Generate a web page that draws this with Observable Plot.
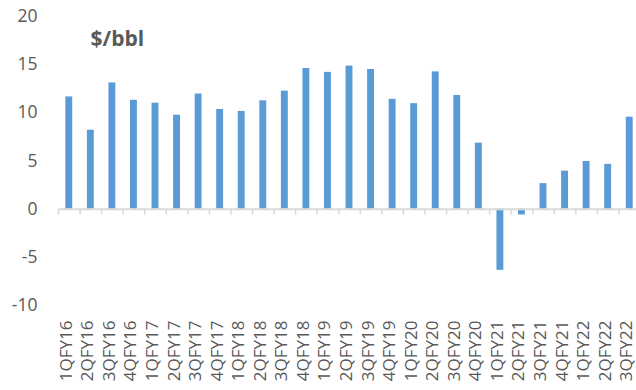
<!DOCTYPE html>
<html><head><meta charset="utf-8">
<script src="https://cdn.jsdelivr.net/npm/d3@7"></script>
<script src="https://cdn.jsdelivr.net/npm/@observablehq/plot@0.6"></script>
<style>html,body{margin:0;padding:0;background:#fff} #chart svg{display:block}</style>
</head><body><div id="chart"></div>
<script>
const quarters = ["1QFY16","2QFY16","3QFY16","4QFY16","1QFY17","2QFY17","3QFY17","4QFY17","1QFY18","2QFY18","3QFY18","4QFY18","1QFY19","2QFY19","3QFY19","4QFY19","1QFY20","2QFY20","3QFY20","4QFY20","1QFY21","2QFY21","3QFY21","4QFY21","1QFY22","2QFY22","3QFY22"];
const values = [11.65, 8.2, 13.1, 11.3, 11.0, 9.75, 11.95, 10.35, 10.15, 11.25, 12.25, 14.6, 14.2, 14.85, 14.5, 11.4, 10.95, 14.25, 11.8, 6.85, -6.35, -0.6, 2.65, 3.95, 4.95, 4.65, 9.55];
const yTicks = [-10, -5, 0, 5, 10, 15, 20];
const title = "$/bbl";

const data = quarters.map((q, i) => ({q, v: values[i]}));
const X0 = 58, X1 = 640;
const bw = (X1 - X0) / quarters.length;
const chart = Plot.plot({
  width: 636, height: 390,
  marginTop: 16, marginBottom: 85, marginLeft: 58, marginRight: 0,
  style: {fontFamily: "'Open Sans', sans-serif", fontSize: "17px", color: "#595959", background: "#fff"},
  x: {type: "band", domain: quarters, range: [X0, X1], paddingInner: 0.68, paddingOuter: 0.34, round: false},
  y: {domain: [-10, 20], ticks: yTicks},
  marks: [
    Plot.axisY({ticks: yTicks, tickSize: 0, tickPadding: 21, tickFormat: d => String(d), label: null, fill: "#595959", fontSize: 17.5}),
    Plot.axisX({tickSize: 0, tickRotate: -90, tickPadding: 15, dx: -3, label: null, fill: "#595959"}),
    Plot.barY(data, {x: "q", y: "v", fill: "#5B9BD5"}),
    Plot.ruleY([0], {stroke: "#d9d9d9", strokeWidth: 2}),
    Plot.ruleX(quarters, {x: d => d, y1: 0, y2: 0, insetBottom: -6, dx: -bw / 2, stroke: "#d9d9d9", strokeWidth: 1.5}),
    Plot.text([title], {frameAnchor: "top-left", dx: 32, dy: 15, fontWeight: "bold", fontSize: 21, fill: "#595959", textAnchor: "start"})
  ]
});
document.getElementById("chart").append(chart);
</script>
</body></html>
